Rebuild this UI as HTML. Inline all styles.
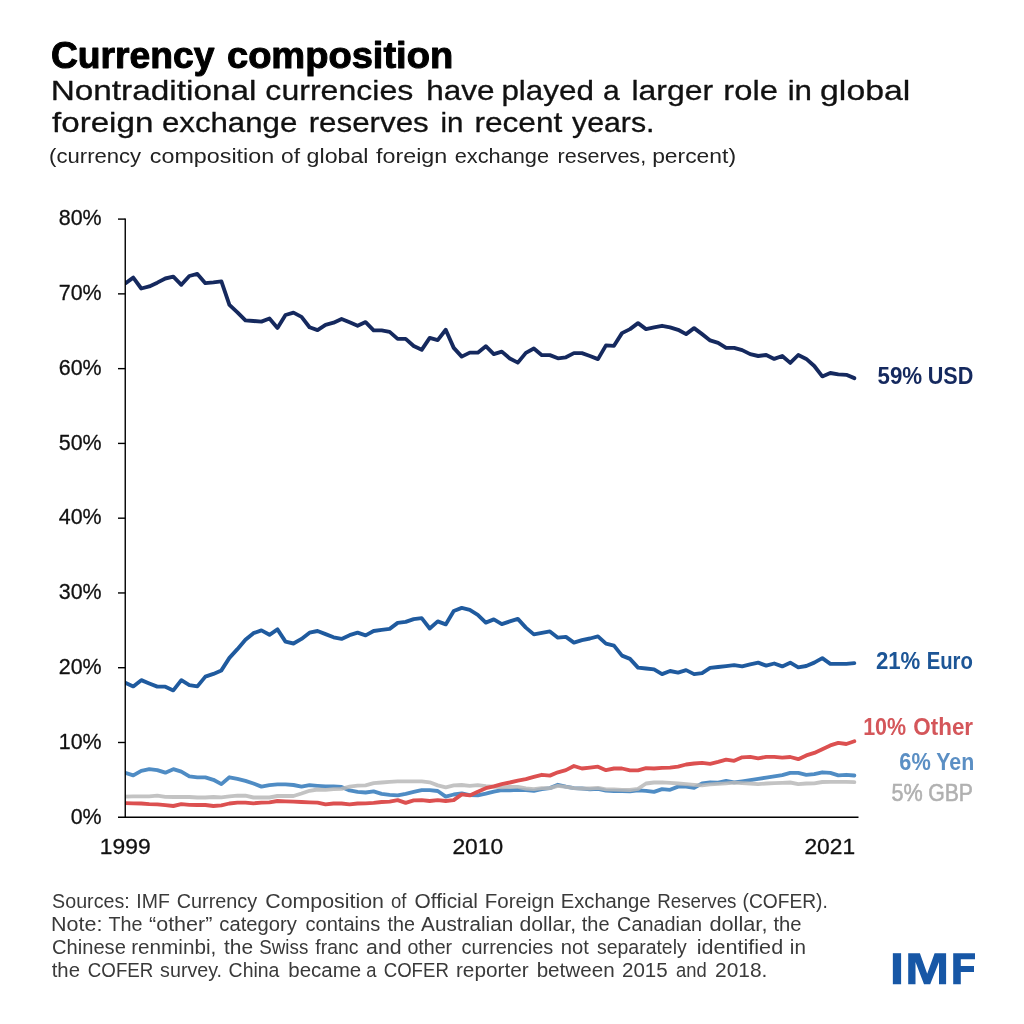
<!DOCTYPE html>
<html><head><meta charset="utf-8"><title>Currency composition</title>
<style>
html,body{margin:0;padding:0;background:#fff;}
body{width:1024px;height:1024px;position:relative;overflow:hidden;font-family:"Liberation Sans",sans-serif;}
text{font-family:"Liberation Sans",sans-serif;white-space:pre;}
svg{position:absolute;left:0;top:0;will-change:transform;}
.s{fill:none;stroke-width:3.85;stroke-linejoin:round;stroke-linecap:round;}
</style></head><body>
<svg width="1024" height="1024" viewBox="0 0 1024 1024">
<defs><clipPath id="cp"><rect x="125.25" y="200" width="760" height="640"/></clipPath></defs>
<g clip-path="url(#cp)">
<polyline class="s" stroke="#15295e" points="125.25,283.50 133.26,277.65 141.27,288.50 149.29,286.40 157.30,282.65 165.31,278.50 173.32,276.65 181.33,284.80 189.35,276.00 197.36,273.90 205.37,283.15 213.38,282.40 221.39,281.40 229.41,304.80 237.42,312.30 245.43,320.40 253.44,321.00 261.45,321.65 269.47,318.50 277.48,327.90 285.49,315.00 293.50,312.65 301.51,316.90 309.53,327.30 317.54,330.15 325.55,324.80 333.56,322.65 341.57,318.90 349.59,322.30 357.60,325.80 365.61,322.10 373.62,330.40 381.63,330.40 389.65,331.90 397.66,338.90 405.67,338.90 413.68,346.00 421.69,349.80 429.71,337.90 437.72,340.15 445.73,329.80 453.74,347.90 461.75,356.65 469.77,352.65 477.78,352.65 485.79,346.20 493.80,354.15 501.81,351.65 509.83,358.50 517.84,362.65 525.85,352.90 533.86,348.50 541.87,355.15 549.89,355.15 557.90,358.30 565.91,357.30 573.92,353.15 581.93,353.15 589.95,356.00 597.96,359.15 605.97,345.40 613.98,345.80 621.99,333.15 630.01,329.15 638.02,323.15 646.03,329.15 654.04,327.30 662.05,325.80 670.07,327.30 678.08,329.80 686.09,334.15 694.10,328.15 702.11,334.15 710.13,340.40 718.14,342.90 726.15,347.90 734.16,347.90 742.17,350.15 750.19,354.15 758.20,356.00 766.21,355.00 774.22,358.90 782.23,356.00 790.25,362.90 798.26,355.00 806.27,358.90 814.28,366.00 822.29,376.40 830.31,373.00 838.32,374.40 846.33,374.80 854.34,378.15"/>
<polyline class="s" stroke="#1f5a9e" points="125.25,682.65 133.26,686.40 141.27,680.15 149.29,683.50 157.30,686.65 165.31,686.65 173.32,690.40 181.33,680.15 189.35,685.15 197.36,686.40 205.37,676.65 213.38,673.90 221.39,670.40 229.41,657.90 237.42,649.15 245.43,639.80 253.44,633.15 261.45,630.40 269.47,634.80 277.48,629.40 285.49,641.65 293.50,643.50 301.51,638.90 309.53,632.65 317.54,631.00 325.55,634.15 333.56,637.30 341.57,638.90 349.59,635.15 357.60,632.65 365.61,635.40 373.62,631.00 381.63,629.80 389.65,628.90 397.66,622.90 405.67,621.90 413.68,619.15 421.69,618.15 429.71,628.50 437.72,621.40 445.73,624.40 453.74,611.00 461.75,607.90 469.77,609.80 477.78,614.80 485.79,622.65 493.80,619.40 501.81,624.15 509.83,621.40 517.84,618.90 525.85,627.65 533.86,634.40 541.87,632.90 549.89,631.40 557.90,637.65 565.91,636.90 573.92,642.65 581.93,640.15 589.95,638.50 597.96,636.40 605.97,643.70 613.98,645.65 621.99,655.65 630.01,658.90 638.02,667.65 646.03,668.50 654.04,669.40 662.05,674.15 670.07,671.00 678.08,672.65 686.09,670.15 694.10,674.15 702.11,673.15 710.13,667.90 718.14,667.00 726.15,666.15 734.16,665.15 742.17,666.40 750.19,664.40 758.20,662.65 766.21,665.65 774.22,663.50 782.23,666.40 790.25,662.65 798.26,667.30 806.27,666.00 814.28,662.65 822.29,658.15 830.31,663.90 838.32,663.90 846.33,663.90 854.34,663.15"/>
<polyline class="s" stroke="#4f8cc4" points="125.25,772.90 133.26,775.40 141.27,770.80 149.29,769.15 157.30,770.15 165.31,772.65 173.32,769.15 181.33,771.65 189.35,776.40 197.36,777.30 205.37,777.30 213.38,779.80 221.39,784.15 229.41,777.30 237.42,778.90 245.43,780.90 253.44,783.50 261.45,786.65 269.47,785.15 277.48,784.40 285.49,784.40 293.50,785.00 301.51,786.65 309.53,785.15 317.54,785.80 325.55,786.30 333.56,786.30 341.57,786.90 349.59,790.40 357.60,791.90 365.61,792.50 373.62,791.40 381.63,793.80 389.65,794.80 397.66,795.40 405.67,793.80 413.68,791.90 421.69,790.15 429.71,790.15 437.72,791.00 445.73,796.65 453.74,794.50 461.75,793.50 469.77,795.15 477.78,795.40 485.79,793.70 493.80,791.65 501.81,790.15 509.83,790.40 517.84,789.80 525.85,790.15 533.86,790.80 541.87,789.15 549.89,788.15 557.90,784.80 565.91,786.65 573.92,788.15 581.93,788.50 589.95,789.40 597.96,788.90 605.97,790.70 613.98,791.00 621.99,791.00 630.01,791.30 638.02,790.40 646.03,790.80 654.04,791.90 662.05,789.15 670.07,789.80 678.08,786.65 686.09,786.65 694.10,787.90 702.11,783.30 710.13,782.30 718.14,782.65 726.15,781.00 734.16,782.30 742.17,781.30 750.19,780.15 758.20,778.90 766.21,777.65 774.22,776.40 782.23,775.15 790.25,772.90 798.26,772.90 806.27,774.80 814.28,774.15 822.29,772.30 830.31,772.90 838.32,775.40 846.33,774.80 854.34,775.50"/>
<polyline class="s" stroke="#b9b9b9" stroke-opacity="0.85" points="125.25,796.65 133.26,796.40 141.27,796.40 149.29,796.40 157.30,795.65 165.31,796.90 173.32,797.00 181.33,797.00 189.35,797.00 197.36,797.50 205.37,797.50 213.38,797.00 221.39,797.30 229.41,796.40 237.42,795.65 245.43,795.70 253.44,797.50 261.45,797.50 269.47,797.50 277.48,796.00 285.49,796.00 293.50,796.00 301.51,793.50 309.53,790.80 317.54,789.50 325.55,789.80 333.56,789.15 341.57,788.90 349.59,786.65 357.60,785.65 365.61,785.30 373.62,783.15 381.63,782.50 389.65,781.90 397.66,781.30 405.67,781.30 413.68,781.30 421.69,781.30 429.71,782.30 437.72,785.40 445.73,787.30 453.74,785.40 461.75,785.00 469.77,785.80 477.78,785.15 485.79,786.10 493.80,786.65 501.81,787.30 509.83,786.90 517.84,786.90 525.85,788.50 533.86,789.15 541.87,788.15 549.89,788.15 557.90,785.80 565.91,786.90 573.92,788.15 581.93,788.50 589.95,788.50 597.96,787.90 605.97,789.30 613.98,789.50 621.99,789.80 630.01,790.00 638.02,788.90 646.03,783.50 654.04,782.50 662.05,782.30 670.07,782.90 678.08,783.50 686.09,784.15 694.10,784.80 702.11,785.40 710.13,784.40 718.14,783.90 726.15,783.30 734.16,782.65 742.17,783.15 750.19,783.50 758.20,784.15 766.21,783.50 774.22,783.15 782.23,782.90 790.25,782.50 798.26,784.15 806.27,783.50 814.28,783.30 822.29,782.00 830.31,781.90 838.32,781.90 846.33,781.90 854.34,782.10"/>
<polyline class="s" stroke="#dc5050" points="125.25,803.15 133.26,803.30 141.27,803.50 149.29,804.15 157.30,804.40 165.31,805.15 173.32,806.00 181.33,804.15 189.35,804.80 197.36,805.00 205.37,805.00 213.38,806.00 221.39,805.40 229.41,803.50 237.42,802.65 245.43,802.65 253.44,803.30 261.45,802.65 269.47,802.30 277.48,801.00 285.49,801.30 293.50,801.65 301.51,802.00 309.53,802.30 317.54,802.65 325.55,804.40 333.56,803.50 341.57,803.50 349.59,804.40 357.60,803.50 365.61,803.30 373.62,802.90 381.63,802.00 389.65,801.65 397.66,800.15 405.67,802.90 413.68,800.40 421.69,800.15 429.71,801.00 437.72,800.15 445.73,801.00 453.74,800.15 461.75,794.40 469.77,795.40 477.78,791.65 485.79,788.20 493.80,786.40 501.81,784.15 509.83,782.50 517.84,780.65 525.85,779.15 533.86,776.90 541.87,774.80 549.89,775.65 557.90,772.30 565.91,770.15 573.92,766.00 581.93,768.50 589.95,767.65 597.96,766.65 605.97,770.15 613.98,768.50 621.99,768.50 630.01,770.40 638.02,770.40 646.03,768.15 654.04,768.50 662.05,767.90 670.07,767.65 678.08,766.65 686.09,764.50 694.10,763.50 702.11,762.90 710.13,763.90 718.14,761.90 726.15,759.65 734.16,760.80 742.17,757.30 750.19,756.90 758.20,758.30 766.21,756.90 774.22,756.90 782.23,757.65 790.25,757.00 798.26,759.15 806.27,755.40 814.28,752.90 822.29,749.15 830.31,745.40 838.32,742.90 846.33,744.00 854.34,741.30"/>
</g>
<g stroke="#000" stroke-width="1.4" fill="none">
<line x1="125.25" y1="218.45" x2="125.25" y2="817.95"/>
<line x1="118" y1="817.3" x2="858.5" y2="817.3"/>
<line x1="118" y1="219.10" x2="125.25" y2="219.10"/><line x1="118" y1="293.87" x2="125.25" y2="293.87"/><line x1="118" y1="368.64" x2="125.25" y2="368.64"/><line x1="118" y1="443.41" x2="125.25" y2="443.41"/><line x1="118" y1="518.18" x2="125.25" y2="518.18"/><line x1="118" y1="592.95" x2="125.25" y2="592.95"/><line x1="118" y1="667.72" x2="125.25" y2="667.72"/><line x1="118" y1="742.49" x2="125.25" y2="742.49"/>
</g>
<g fill="#1757a6">
<rect x="892.85" y="953.2" width="8.25" height="31.05"/>
<path d="M908.2,984.25 L908.2,953.2 L919.9,953.2 L927.2,973.7 L934.6,953.2 L946.1,953.2 L946.1,984.25 L939,984.25 L939,962 L930.2,984.25 L924,984.25 L915.5,962 L915.5,984.25 Z"/>
<path d="M953.2,984.25 L953.2,953.2 L975,953.2 L975,959.35 L960.8,959.35 L960.8,966.1 L974,966.1 L974,971.95 L960.8,971.95 L960.8,984.25 Z"/>
</g>
<text class="t" id="t1w0" transform="translate(50.98,68.20) scale(1.0171,1)" text-anchor="start" font-size="36.6" font-weight="bold" fill="#000" stroke="#000" stroke-width="1.0" stroke-linejoin="round">Currency</text>
<text class="t" id="t1w1" transform="translate(226.96,68.20) scale(1.0403,1)" text-anchor="start" font-size="36.6" font-weight="bold" fill="#000" stroke="#000" stroke-width="1.0" stroke-linejoin="round">composition</text>
<text class="t" id="t2w0" transform="translate(50.66,100.40) scale(1.1708,1)" text-anchor="start" font-size="28.5" font-weight="normal" fill="#111" stroke="#111" stroke-width="0.3" stroke-linejoin="round">Nontraditional</text>
<text class="t" id="t2w1" transform="translate(265.37,100.40) scale(1.1251,1)" text-anchor="start" font-size="28.5" font-weight="normal" fill="#111" stroke="#111" stroke-width="0.3" stroke-linejoin="round">currencies</text>
<text class="t" id="t2w2" transform="translate(426.14,100.40) scale(1.1051,1)" text-anchor="start" font-size="28.5" font-weight="normal" fill="#111" stroke="#111" stroke-width="0.3" stroke-linejoin="round">have</text>
<text class="t" id="t2w3" transform="translate(501.40,100.40) scale(1.1019,1)" text-anchor="start" font-size="28.5" font-weight="normal" fill="#111" stroke="#111" stroke-width="0.3" stroke-linejoin="round">played</text>
<text class="t" id="t2w4" transform="translate(602.90,100.40) scale(1.0555,1)" text-anchor="start" font-size="28.5" font-weight="normal" fill="#111" stroke="#111" stroke-width="0.3" stroke-linejoin="round">a</text>
<text class="t" id="t2w5" transform="translate(631.38,100.40) scale(1.1226,1)" text-anchor="start" font-size="28.5" font-weight="normal" fill="#111" stroke="#111" stroke-width="0.3" stroke-linejoin="round">larger</text>
<text class="t" id="t2w6" transform="translate(723.35,100.40) scale(1.1495,1)" text-anchor="start" font-size="28.5" font-weight="normal" fill="#111" stroke="#111" stroke-width="0.3" stroke-linejoin="round">role</text>
<text class="t" id="t2w7" transform="translate(787.65,100.40) scale(1.0992,1)" text-anchor="start" font-size="28.5" font-weight="normal" fill="#111" stroke="#111" stroke-width="0.3" stroke-linejoin="round">in</text>
<text class="t" id="t2w8" transform="translate(820.06,100.40) scale(1.1867,1)" text-anchor="start" font-size="28.5" font-weight="normal" fill="#111" stroke="#111" stroke-width="0.3" stroke-linejoin="round">global</text>
<text class="t" id="t3w0" transform="translate(52.00,131.50) scale(1.1637,1)" text-anchor="start" font-size="28.5" font-weight="normal" fill="#111" stroke="#111" stroke-width="0.3" stroke-linejoin="round">foreign</text>
<text class="t" id="t3w1" transform="translate(161.90,131.50) scale(1.0965,1)" text-anchor="start" font-size="28.5" font-weight="normal" fill="#111" stroke="#111" stroke-width="0.3" stroke-linejoin="round">exchange</text>
<text class="t" id="t3w2" transform="translate(308.65,131.50) scale(1.0992,1)" text-anchor="start" font-size="28.5" font-weight="normal" fill="#111" stroke="#111" stroke-width="0.3" stroke-linejoin="round">reserves</text>
<text class="t" id="t3w3" transform="translate(440.47,131.50) scale(1.0346,1)" text-anchor="start" font-size="28.5" font-weight="normal" fill="#111" stroke="#111" stroke-width="0.3" stroke-linejoin="round">in</text>
<text class="t" id="t3w4" transform="translate(474.39,131.50) scale(1.1112,1)" text-anchor="start" font-size="28.5" font-weight="normal" fill="#111" stroke="#111" stroke-width="0.3" stroke-linejoin="round">recent</text>
<text class="t" id="t3w5" transform="translate(572.00,131.50) scale(1.0635,1)" text-anchor="start" font-size="28.5" font-weight="normal" fill="#111" stroke="#111" stroke-width="0.3" stroke-linejoin="round">years.</text>
<text class="t" id="t4w0" transform="translate(49.09,163.30) scale(1.1050,1)" text-anchor="start" font-size="20.0" font-weight="normal" fill="#222">(currency</text>
<text class="t" id="t4w1" transform="translate(149.80,163.30) scale(1.1658,1)" text-anchor="start" font-size="20.0" font-weight="normal" fill="#222">composition</text>
<text class="t" id="t4w2" transform="translate(281.00,163.30) scale(1.1388,1)" text-anchor="start" font-size="20.0" font-weight="normal" fill="#222">of</text>
<text class="t" id="t4w3" transform="translate(306.60,163.30) scale(1.1599,1)" text-anchor="start" font-size="20.0" font-weight="normal" fill="#222">global</text>
<text class="t" id="t4w4" transform="translate(376.00,163.30) scale(1.1661,1)" text-anchor="start" font-size="20.0" font-weight="normal" fill="#222">foreign</text>
<text class="t" id="t4w5" transform="translate(454.70,163.30) scale(1.0887,1)" text-anchor="start" font-size="20.0" font-weight="normal" fill="#222">exchange</text>
<text class="t" id="t4w6" transform="translate(557.52,163.30) scale(1.0779,1)" text-anchor="start" font-size="20.0" font-weight="normal" fill="#222">reserves,</text>
<text class="t" id="t4w7" transform="translate(652.16,163.30) scale(1.1435,1)" text-anchor="start" font-size="20.0" font-weight="normal" fill="#222">percent)</text>
<text class="t" id="y80" transform="translate(101.60,225.40) scale(0.9400,1)" text-anchor="end" font-size="22.8" font-weight="normal" fill="#111" stroke="#111" stroke-width="0.3" stroke-linejoin="round">80%</text>
<text class="t" id="y70" transform="translate(101.60,300.17) scale(0.9400,1)" text-anchor="end" font-size="22.8" font-weight="normal" fill="#111" stroke="#111" stroke-width="0.3" stroke-linejoin="round">70%</text>
<text class="t" id="y60" transform="translate(101.60,374.94) scale(0.9400,1)" text-anchor="end" font-size="22.8" font-weight="normal" fill="#111" stroke="#111" stroke-width="0.3" stroke-linejoin="round">60%</text>
<text class="t" id="y50" transform="translate(101.60,449.71) scale(0.9400,1)" text-anchor="end" font-size="22.8" font-weight="normal" fill="#111" stroke="#111" stroke-width="0.3" stroke-linejoin="round">50%</text>
<text class="t" id="y40" transform="translate(101.60,524.48) scale(0.9400,1)" text-anchor="end" font-size="22.8" font-weight="normal" fill="#111" stroke="#111" stroke-width="0.3" stroke-linejoin="round">40%</text>
<text class="t" id="y30" transform="translate(101.60,599.25) scale(0.9400,1)" text-anchor="end" font-size="22.8" font-weight="normal" fill="#111" stroke="#111" stroke-width="0.3" stroke-linejoin="round">30%</text>
<text class="t" id="y20" transform="translate(101.60,674.02) scale(0.9400,1)" text-anchor="end" font-size="22.8" font-weight="normal" fill="#111" stroke="#111" stroke-width="0.3" stroke-linejoin="round">20%</text>
<text class="t" id="y10" transform="translate(101.60,748.79) scale(0.9400,1)" text-anchor="end" font-size="22.8" font-weight="normal" fill="#111" stroke="#111" stroke-width="0.3" stroke-linejoin="round">10%</text>
<text class="t" id="y0" transform="translate(101.60,823.56) scale(0.9400,1)" text-anchor="end" font-size="22.8" font-weight="normal" fill="#111" stroke="#111" stroke-width="0.3" stroke-linejoin="round">0%</text>
<text class="t" id="x1" transform="translate(125.20,854.00)" text-anchor="middle" font-size="22.8" font-weight="normal" fill="#111" stroke="#111" stroke-width="0.3" stroke-linejoin="round">1999</text>
<text class="t" id="x2" transform="translate(477.80,854.00)" text-anchor="middle" font-size="22.8" font-weight="normal" fill="#111" stroke="#111" stroke-width="0.3" stroke-linejoin="round">2010</text>
<text class="t" id="x3" transform="translate(829.80,854.00)" text-anchor="middle" font-size="22.8" font-weight="normal" fill="#111" stroke="#111" stroke-width="0.3" stroke-linejoin="round">2021</text>
<text class="t" id="l1w0" transform="translate(877.50,384.30) scale(0.9550,1)" text-anchor="start" font-size="23.4" font-weight="bold" fill="#15295e">59%</text>
<text class="t" id="l1w1" transform="translate(927.68,384.30) scale(0.9243,1)" text-anchor="start" font-size="23.4" font-weight="bold" fill="#15295e">USD</text>
<text class="t" id="l2w0" transform="translate(875.90,669.00) scale(0.9486,1)" text-anchor="start" font-size="23.4" font-weight="bold" fill="#1c5596">21%</text>
<text class="t" id="l2w1" transform="translate(926.63,669.00) scale(0.8674,1)" text-anchor="start" font-size="23.4" font-weight="bold" fill="#1c5596">Euro</text>
<text class="t" id="l3w0" transform="translate(863.18,735.10) scale(0.9170,1)" text-anchor="start" font-size="23.4" font-weight="bold" fill="#d4565a">10%</text>
<text class="t" id="l3w1" transform="translate(913.30,735.10) scale(0.9586,1)" text-anchor="start" font-size="23.4" font-weight="bold" fill="#d4565a">Other</text>
<text class="t" id="l4w0" transform="translate(899.30,770.10) scale(0.9292,1)" text-anchor="start" font-size="23.4" font-weight="bold" fill="#5b8fc4">6%</text>
<text class="t" id="l4w1" transform="translate(936.20,770.10) scale(0.9127,1)" text-anchor="start" font-size="23.4" font-weight="bold" fill="#5b8fc4">Yen</text>
<text class="t" id="l5w0" transform="translate(891.60,801.40) scale(0.9240,1)" text-anchor="start" font-size="23.4" font-weight="normal" fill="#b0b0b0" stroke="#b0b0b0" stroke-width="0.55" stroke-linejoin="round">5%</text>
<text class="t" id="l5w1" transform="translate(928.19,801.40) scale(0.9080,1)" text-anchor="start" font-size="23.4" font-weight="normal" fill="#b0b0b0" stroke="#b0b0b0" stroke-width="0.55" stroke-linejoin="round">GBP</text>
<text class="t" id="f1w0" transform="translate(52.10,907.60) scale(1.0088,1)" text-anchor="start" font-size="19.5" font-weight="normal" fill="#3a3a3a">Sources:</text>
<text class="t" id="f1w1" transform="translate(136.30,907.60) scale(0.9981,1)" text-anchor="start" font-size="19.5" font-weight="normal" fill="#3a3a3a">IMF</text>
<text class="t" id="f1w2" transform="translate(176.70,907.60) scale(1.0182,1)" text-anchor="start" font-size="19.5" font-weight="normal" fill="#3a3a3a">Currency</text>
<text class="t" id="f1w3" transform="translate(265.30,907.60) scale(1.0954,1)" text-anchor="start" font-size="19.5" font-weight="normal" fill="#3a3a3a">Composition</text>
<text class="t" id="f1w4" transform="translate(391.02,907.60) scale(0.9530,1)" text-anchor="start" font-size="19.5" font-weight="normal" fill="#3a3a3a">of</text>
<text class="t" id="f1w5" transform="translate(414.60,907.60) scale(1.0711,1)" text-anchor="start" font-size="19.5" font-weight="normal" fill="#3a3a3a">Official</text>
<text class="t" id="f1w6" transform="translate(484.85,907.60) scale(1.0518,1)" text-anchor="start" font-size="19.5" font-weight="normal" fill="#3a3a3a">Foreign</text>
<text class="t" id="f1w7" transform="translate(560.66,907.60) scale(1.0379,1)" text-anchor="start" font-size="19.5" font-weight="normal" fill="#3a3a3a">Exchange</text>
<text class="t" id="f1w8" transform="translate(657.24,907.60) scale(0.9619,1)" text-anchor="start" font-size="19.5" font-weight="normal" fill="#3a3a3a">Reserves</text>
<text class="t" id="f1w9" transform="translate(742.51,907.60) scale(0.9853,1)" text-anchor="start" font-size="19.5" font-weight="normal" fill="#3a3a3a">(COFER).</text>
<text class="t" id="f2w0" transform="translate(51.00,930.60) scale(1.1043,1)" text-anchor="start" font-size="19.5" font-weight="normal" fill="#3a3a3a">Note:</text>
<text class="t" id="f2w1" transform="translate(108.40,930.60) scale(1.0135,1)" text-anchor="start" font-size="19.5" font-weight="normal" fill="#3a3a3a">The</text>
<text class="t" id="f2w2" transform="translate(149.00,930.60) scale(1.1047,1)" text-anchor="start" font-size="19.5" font-weight="normal" fill="#3a3a3a">“other”</text>
<text class="t" id="f2w3" transform="translate(219.30,930.60) scale(1.0368,1)" text-anchor="start" font-size="19.5" font-weight="normal" fill="#3a3a3a">category</text>
<text class="t" id="f2w4" transform="translate(305.50,930.60) scale(1.0291,1)" text-anchor="start" font-size="19.5" font-weight="normal" fill="#3a3a3a">contains</text>
<text class="t" id="f2w5" transform="translate(387.60,930.60) scale(1.0128,1)" text-anchor="start" font-size="19.5" font-weight="normal" fill="#3a3a3a">the</text>
<text class="t" id="f2w6" transform="translate(421.10,930.60) scale(1.0621,1)" text-anchor="start" font-size="19.5" font-weight="normal" fill="#3a3a3a">Australian</text>
<text class="t" id="f2w7" transform="translate(519.50,930.60) scale(1.0866,1)" text-anchor="start" font-size="19.5" font-weight="normal" fill="#3a3a3a">dollar,</text>
<text class="t" id="f2w8" transform="translate(581.80,930.60) scale(1.0262,1)" text-anchor="start" font-size="19.5" font-weight="normal" fill="#3a3a3a">the</text>
<text class="t" id="f2w9" transform="translate(617.10,930.60) scale(1.0165,1)" text-anchor="start" font-size="19.5" font-weight="normal" fill="#3a3a3a">Canadian</text>
<text class="t" id="f2w10" transform="translate(709.40,930.60) scale(1.1162,1)" text-anchor="start" font-size="19.5" font-weight="normal" fill="#3a3a3a">dollar,</text>
<text class="t" id="f2w11" transform="translate(773.40,930.60) scale(1.0395,1)" text-anchor="start" font-size="19.5" font-weight="normal" fill="#3a3a3a">the</text>
<text class="t" id="f3w0" transform="translate(52.10,954.00) scale(1.0311,1)" text-anchor="start" font-size="19.5" font-weight="normal" fill="#3a3a3a">Chinese</text>
<text class="t" id="f3w1" transform="translate(131.14,954.00) scale(1.0619,1)" text-anchor="start" font-size="19.5" font-weight="normal" fill="#3a3a3a">renminbi,</text>
<text class="t" id="f3w2" transform="translate(224.00,954.00) scale(1.0738,1)" text-anchor="start" font-size="19.5" font-weight="normal" fill="#3a3a3a">the</text>
<text class="t" id="f3w3" transform="translate(259.31,954.00) scale(0.9631,1)" text-anchor="start" font-size="19.5" font-weight="normal" fill="#3a3a3a">Swiss</text>
<text class="t" id="f3w4" transform="translate(315.30,954.00) scale(0.9954,1)" text-anchor="start" font-size="19.5" font-weight="normal" fill="#3a3a3a">franc</text>
<text class="t" id="f3w5" transform="translate(366.10,954.00) scale(1.0918,1)" text-anchor="start" font-size="19.5" font-weight="normal" fill="#3a3a3a">and</text>
<text class="t" id="f3w6" transform="translate(407.40,954.00) scale(1.0077,1)" text-anchor="start" font-size="19.5" font-weight="normal" fill="#3a3a3a">other</text>
<text class="t" id="f3w7" transform="translate(461.50,954.00) scale(1.0211,1)" text-anchor="start" font-size="19.5" font-weight="normal" fill="#3a3a3a">currencies</text>
<text class="t" id="f3w8" transform="translate(560.77,954.00) scale(1.0341,1)" text-anchor="start" font-size="19.5" font-weight="normal" fill="#3a3a3a">not</text>
<text class="t" id="f3w9" transform="translate(597.00,954.00) scale(0.9976,1)" text-anchor="start" font-size="19.5" font-weight="normal" fill="#3a3a3a">separately</text>
<text class="t" id="f3w10" transform="translate(696.67,954.00) scale(1.1081,1)" text-anchor="start" font-size="19.5" font-weight="normal" fill="#3a3a3a">identified</text>
<text class="t" id="f3w11" transform="translate(789.84,954.00) scale(1.0576,1)" text-anchor="start" font-size="19.5" font-weight="normal" fill="#3a3a3a">in</text>
<text class="t" id="f4w0" transform="translate(51.70,977.30) scale(1.0433,1)" text-anchor="start" font-size="19.5" font-weight="normal" fill="#3a3a3a">the</text>
<text class="t" id="f4w1" transform="translate(87.85,977.30) scale(0.9601,1)" text-anchor="start" font-size="19.5" font-weight="normal" fill="#3a3a3a">COFER</text>
<text class="t" id="f4w2" transform="translate(160.10,977.30) scale(1.0102,1)" text-anchor="start" font-size="19.5" font-weight="normal" fill="#3a3a3a">survey.</text>
<text class="t" id="f4w3" transform="translate(228.60,977.30) scale(0.9980,1)" text-anchor="start" font-size="19.5" font-weight="normal" fill="#3a3a3a">China</text>
<text class="t" id="f4w4" transform="translate(288.25,977.30) scale(1.0499,1)" text-anchor="start" font-size="19.5" font-weight="normal" fill="#3a3a3a">became</text>
<text class="t" id="f4w5" transform="translate(366.18,977.30) scale(0.9442,1)" text-anchor="start" font-size="19.5" font-weight="normal" fill="#3a3a3a">a</text>
<text class="t" id="f4w6" transform="translate(383.70,977.30) scale(0.9550,1)" text-anchor="start" font-size="19.5" font-weight="normal" fill="#3a3a3a">COFER</text>
<text class="t" id="f4w7" transform="translate(455.93,977.30) scale(1.0666,1)" text-anchor="start" font-size="19.5" font-weight="normal" fill="#3a3a3a">reporter</text>
<text class="t" id="f4w8" transform="translate(536.64,977.30) scale(1.0587,1)" text-anchor="start" font-size="19.5" font-weight="normal" fill="#3a3a3a">between</text>
<text class="t" id="f4w9" transform="translate(622.00,977.30) scale(1.0543,1)" text-anchor="start" font-size="19.5" font-weight="normal" fill="#3a3a3a">2015</text>
<text class="t" id="f4w10" transform="translate(675.99,977.30) scale(0.9442,1)" text-anchor="start" font-size="19.5" font-weight="normal" fill="#3a3a3a">and</text>
<text class="t" id="f4w11" transform="translate(715.00,977.30) scale(1.0743,1)" text-anchor="start" font-size="19.5" font-weight="normal" fill="#3a3a3a">2018.</text>
</svg>
</body></html>
